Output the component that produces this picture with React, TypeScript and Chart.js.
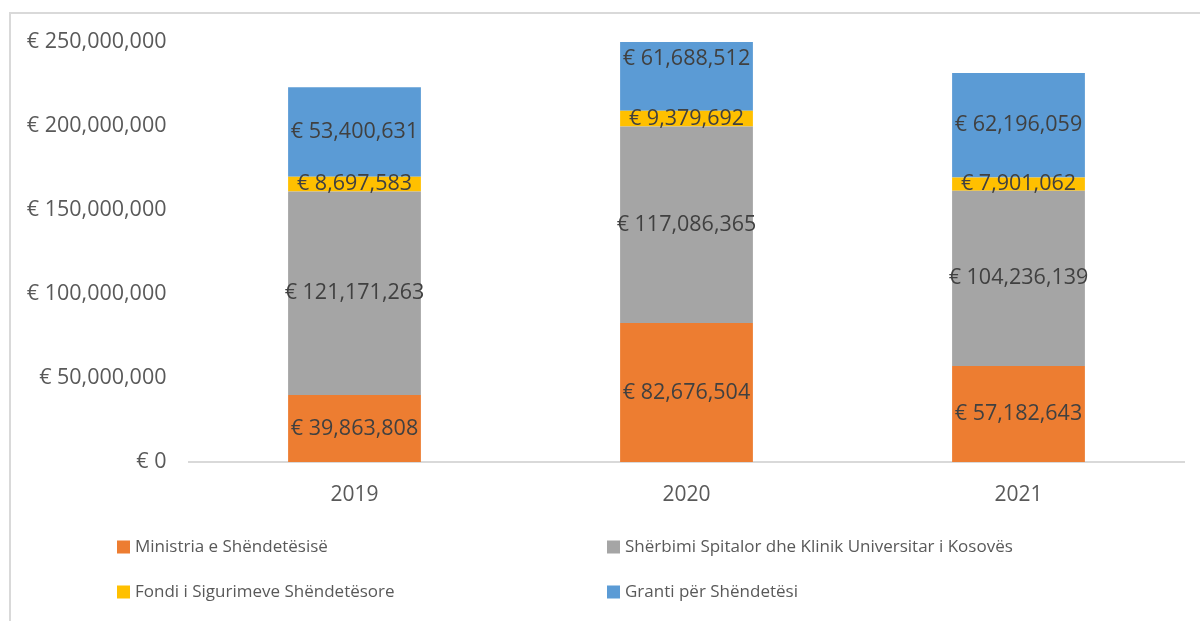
import React, { useEffect, useRef } from "react";
import { Chart, registerables } from "chart.js";

Chart.register(...registerables);

const categories = ["2019", "2020", "2021"];
const seriesNames = [
  "Ministria e Shëndetësisë",
  "Shërbimi Spitalor dhe Klinik Universitar i Kosovës",
  "Fondi i Sigurimeve Shëndetësore",
  "Granti për Shëndetësi",
];
const ministria = [39863808, 82676504, 57182643];
const sherbimi = [121171263, 117086365, 104236139];
const fondi = [8697583, 9379692, 7901062];
const granti = [53400631, 61688512, 62196059];
const seriesColors = ["#ED7D31", "#A5A5A5", "#FFC000", "#5B9BD5"];
const yTicksMax = 250000000;
const yTicksStep = 50000000;

const FONT = "'Open Sans', sans-serif";
const fmt = (v: number) => "€ " + v.toLocaleString("en-US");

const framePlugin = {
  id: "frame",
  beforeDraw(chart: any) {
    const ctx = chart.ctx;
    ctx.save();
    ctx.fillStyle = "#ffffff";
    ctx.fillRect(0, 0, chart.width, chart.height);
    ctx.strokeStyle = "#d9d9d9";
    ctx.lineWidth = 2;
    ctx.strokeRect(10, 13, chart.width + 50, chart.height + 50);
    ctx.restore();
  },
};

const labelPlugin = {
  id: "barLabels",
  afterDatasetsDraw(chart: any) {
    const ctx = chart.ctx;
    ctx.save();
    ctx.font = `21.5px ${FONT}`;
    ctx.fillStyle = "#404040";
    ctx.textAlign = "center";
    ctx.textBaseline = "middle";
    chart.data.datasets.forEach((ds: any, i: number) => {
      const meta = chart.getDatasetMeta(i);
      meta.data.forEach((el: any, j: number) => {
        const y = (el.y + el.base) / 2;
        ctx.fillText(fmt(ds.data[j]), el.x, y);
      });
    });
    ctx.restore();
  },
};

const legendPlugin = {
  id: "customLegend",
  afterDraw(chart: any) {
    const ctx = chart.ctx;
    const cols = [117, 607];
    const rows = [547, 592];
    const order = [0, 1, 2, 3];
    ctx.save();
    ctx.font = `17px ${FONT}`;
    ctx.textBaseline = "middle";
    ctx.textAlign = "left";
    order.forEach((di, k) => {
      const ds = chart.data.datasets[di];
      const x = cols[k % 2];
      const y = rows[Math.floor(k / 2)];
      ctx.fillStyle = ds.backgroundColor;
      ctx.fillRect(x, y - 6.5, 13, 13);
      ctx.fillStyle = "#595959";
      ctx.fillText(ds.label, x + 18, y);
    });
    ctx.restore();
  },
};

export default function App() {
  const ref = useRef<HTMLCanvasElement>(null);
  useEffect(() => {
    const values = [ministria, sherbimi, fondi, granti];
    const chart = new Chart(ref.current!, {
      type: "bar",
      data: {
        labels: categories,
        datasets: values.map((d, i) => ({
          label: seriesNames[i],
          data: d,
          backgroundColor: seriesColors[i],
          borderWidth: 0,
          categoryPercentage: 1,
          barPercentage: 0.4,
        })),
      },
      options: {
        animation: false,
        responsive: false,
        layout: { padding: { left: 10, right: 15.5, top: 42, bottom: 0 } },
        plugins: {
          legend: { display: false },
          tooltip: { enabled: false },
        },
        scales: {
          x: {
            stacked: true,
            grid: { display: false, drawTicks: false },
            border: { display: true, color: "#d9d9d9", width: 2 },
            ticks: {
              color: "#595959",
              font: { family: FONT, size: 21 },
              padding: 20,
            },
            afterFit(scale: any) {
              scale.height = 159;
            },
          },
          y: {
            stacked: true,
            min: 0,
            max: yTicksMax,
            grid: { display: false, drawTicks: false },
            border: { display: false },
            ticks: {
              stepSize: yTicksStep,
              color: "#595959",
              font: { family: FONT, size: 21.5 },
              padding: 22,
              callback: (v: any) => fmt(Number(v)),
            },
            afterFit(scale: any) {
              scale.width = 178.5;
            },
          },
        },
      },
      plugins: [framePlugin, labelPlugin, legendPlugin],
    });
    return () => chart.destroy();
  }, []);
  return (
    <div style={{ position: "fixed", left: 0, top: 0, width: 1200, height: 621 }}>
      <canvas ref={ref} width={1200} height={621} />
    </div>
  );
}
